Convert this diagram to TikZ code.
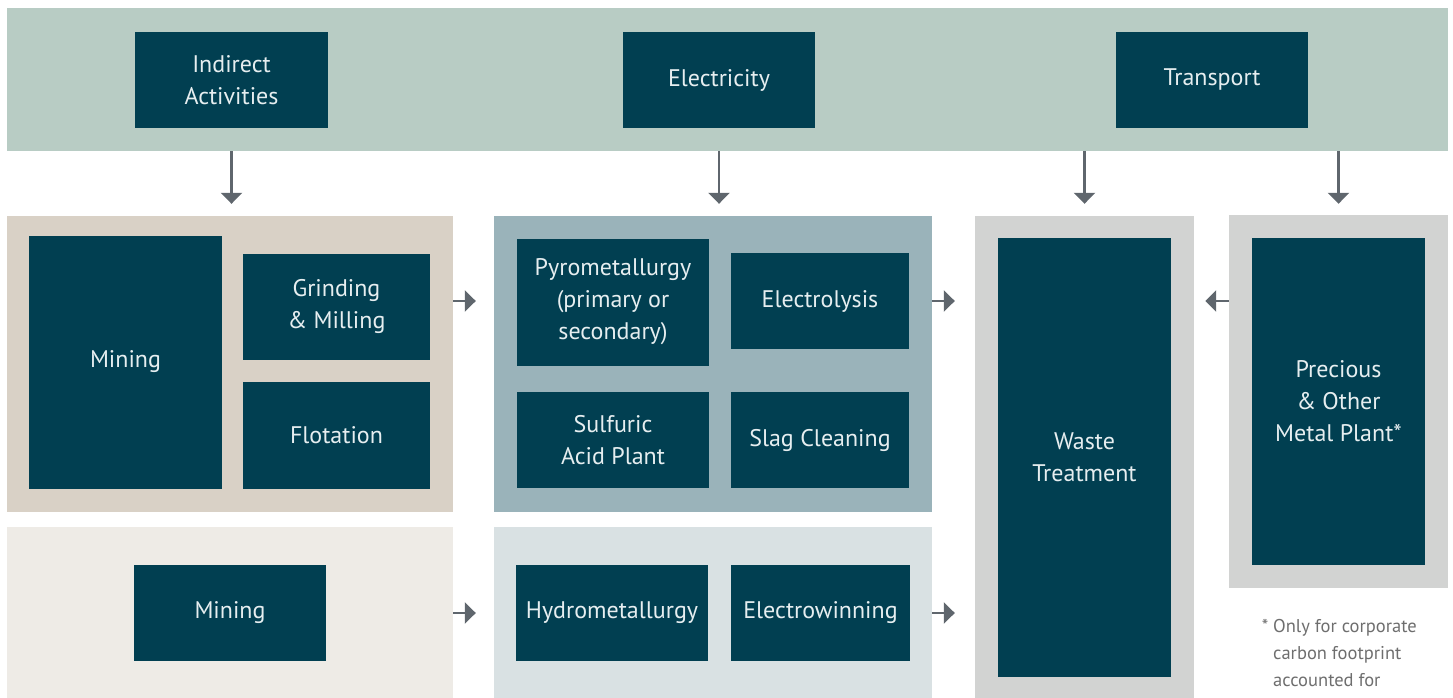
\documentclass[tikz,border=0pt]{standalone}
\usepackage{xcolor}
\usepackage{fontspec}
\setmainfont{PT Sans}
\usepackage{tikz}
\usetikzlibrary{shapes.geometric, arrows.meta, positioning}

\definecolor{bandgreen}{HTML}{B8CCC4}
\definecolor{oresand}{HTML}{D9D1C6}
\definecolor{orelight}{HTML}{EEEBE6}
\definecolor{smeltblue}{HTML}{9AB3BA}
\definecolor{hydrolight}{HTML}{D9E1E3}
\definecolor{plantgrey}{HTML}{D2D3D2}
\definecolor{stepteal}{HTML}{013F51}
\definecolor{steptext}{HTML}{E6EEF0}
\definecolor{arrowgrey}{HTML}{5F666D}
\definecolor{notegrey}{HTML}{6E6E6E}

\tikzstyle{arrow} = [line width=2.7pt, draw=arrowgrey, -{Triangle[width=21pt, length=11pt]}]
\tikzstyle{area} = [rectangle, inner sep=0pt, draw=none]
\tikzstyle{process} = [rectangle, inner sep=0pt, fill=stepteal, text=steptext, align=center, font=\fontsize{24}{32}\selectfont]

\begin{document}
\begin{tikzpicture}[x=1pt, y=-1pt]
\useasboundingbox (0,0) rectangle (1453,698);

% Supply band
\node (band) [area, fill=bandgreen, minimum width=1441pt, minimum height=143pt] at (727.5,79.5) {};
\node (indirect) [process, minimum width=193pt, minimum height=96pt] at (231.5,80) {Indirect\\Activities};
\node (electricity) [process, minimum width=192pt, minimum height=96pt] at (719,80) {Electricity};
\node (transport) [process, minimum width=192pt, minimum height=96pt] at (1212,80) {Transport};

% Ore route
\node (oregroup) [area, fill=oresand, minimum width=446pt, minimum height=296pt] at (230,364) {};
\node (mining) [process, minimum width=193pt, minimum height=253pt] at (125.5,362) {Mining};
\node (grinding) [process, minimum width=187pt, minimum height=106pt] at (336.5,306.5) {Grinding\\\& Milling};
\node (flotation) [process, minimum width=187pt, minimum height=107pt] at (336.5,435) {Flotation};

\node (smeltgroup) [area, fill=smeltblue, minimum width=438pt, minimum height=296pt] at (713,364) {};
\node (pyro) [process, minimum width=192pt, minimum height=127pt] at (613,302) {Pyrometallurgy\\(primary or\\secondary)};
\node (electrolysis) [process, minimum width=178pt, minimum height=96pt] at (820,301) {Electrolysis};
\node (sulfuric) [process, minimum width=192pt, minimum height=96pt] at (613,440) {Sulfuric\\Acid Plant};
\node (slag) [process, minimum width=178pt, minimum height=96pt] at (820,440) {Slag Cleaning};

% Leaching route
\node (leachgroup) [area, fill=orelight, minimum width=446pt, minimum height=171pt] at (230,612.5) {};
\node (mining_two) [process, minimum width=192pt, minimum height=96pt] at (230,613) {Mining};

\node (hydrogroup) [area, fill=hydrolight, minimum width=438pt, minimum height=171pt] at (713,612.5) {};
\node (hydro) [process, minimum width=192pt, minimum height=96pt] at (612,613) {Hydrometallurgy};
\node (electrowinning) [process, minimum width=179pt, minimum height=96pt] at (820.5,613) {Electrowinning};

% Plants on the right
\node (wastegroup) [area, fill=plantgrey, minimum width=219pt, minimum height=482pt] at (1084.5,457) {};
\node (waste) [process, minimum width=173pt, minimum height=439pt] at (1084.5,457.5) {Waste\\Treatment};
\node (metalgroup) [area, fill=plantgrey, minimum width=219pt, minimum height=373pt] at (1338.5,401.5) {};
\node (metal) [process, minimum width=173pt, minimum height=327pt] at (1338.5,401.5) {Precious\\\& Other\\Metal Plant*};

\node (note) [anchor=north west, inner sep=0pt, align=left, text=notegrey, font=\fontsize{18.5}{27}\selectfont] at (1273,619) {\llap{*\ }Only for corporate\\carbon footprint\\accounted for};

% Connections
\draw [arrow, shorten >=12pt] (band.south -| indirect) -- (oregroup.north -| indirect);
\draw [arrow, shorten >=12pt] (band.south -| electricity) -- (smeltgroup.north -| electricity);
\draw [arrow, shorten >=12pt] (band.south -| wastegroup) -- (wastegroup.north);
\draw [arrow, shorten >=11pt] (band.south -| metalgroup) -- (metalgroup.north);
\draw [arrow, shorten >=18pt] (oregroup.east |- electrolysis) -- (smeltgroup.west |- electrolysis);
\draw [arrow, shorten >=20pt] (smeltgroup.east |- electrolysis) -- (wastegroup.west |- electrolysis);
\draw [arrow, shorten >=11pt] (metalgroup.west |- electrolysis) -- (wastegroup.east |- electrolysis);
\draw [arrow, shorten >=18pt] (leachgroup.east |- mining_two) -- (hydrogroup.west |- mining_two);
\draw [arrow, shorten >=20pt] (hydrogroup.east |- electrowinning) -- (wastegroup.west |- electrowinning);

\end{tikzpicture}
\end{document}
